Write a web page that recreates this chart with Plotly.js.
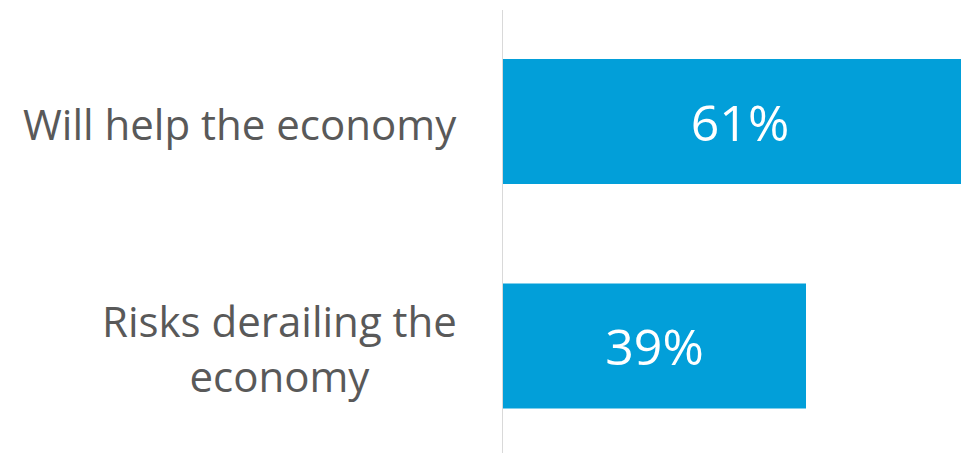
<!DOCTYPE html>
<html>
<head>
<meta charset="utf-8">
<script src="https://cdn.plot.ly/plotly-3.0.1.min.js"></script>
<style>html,body{margin:0;padding:0;background:#fff;}#chart{width:961px;height:453px;}</style>
</head>
<body>
<div id="chart"></div>
<script>
const categories = ["Will help the economy", "Risks derailing the economy"];
const labelText = ["Will help the economy", "Risks derailing the<br>economy"];
const values = [61, 39];

const trace = {
  type: "bar",
  orientation: "h",
  y: categories,
  x: values,
  width: 0.557,
  marker: { color: "#029FD9" },
  texttemplate: "%{x}%",
  textposition: "inside",
  insidetextanchor: "middle",
  textangle: 0,
  insidetextfont: { family: "Open Sans, sans-serif", size: 50, color: "#ffffff" },
  hoverinfo: "none",
  cliponaxis: true
};

const annotations = categories.map((c, i) => ({
  xref: "paper", yref: "y",
  x: 0, y: c,
  xanchor: "right", yanchor: "middle",
  xshift: -44,
  yshift: -2,
  text: labelText[i],
  showarrow: false,
  align: "center",
  font: { family: "Open Sans, sans-serif", size: 42, color: "#595959" }
}));

const layout = {
  width: 961, height: 453,
  margin: { l: 503, r: 0, t: 10, b: 0 },
  paper_bgcolor: "#ffffff",
  plot_bgcolor: "#ffffff",
  showlegend: false,
  xaxis: { range: [0, 58.95], visible: false, showgrid: false, zeroline: false, fixedrange: true },
  yaxis: {
    type: "category",
    range: [1.4766, -0.4967],
    showticklabels: false, ticks: "",
    showgrid: false, zeroline: false,
    showline: true, linecolor: "#d9d9d9", linewidth: 1.5,
    fixedrange: true
  },
  annotations: annotations
};

Plotly.newPlot("chart", [trace], layout, { displayModeBar: false, staticPlot: true });
</script>
</body>
</html>
